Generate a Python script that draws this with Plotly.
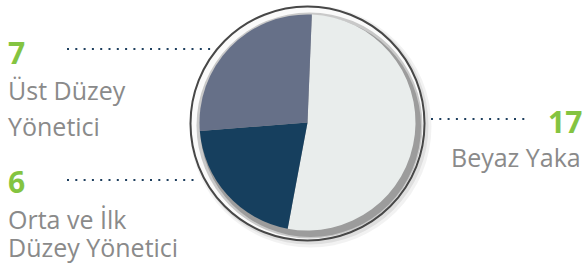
import plotly.graph_objects as go

# ---- data ----
categories = ["Beyaz Yaka", "Orta ve İlk Düzey Yönetici", "Üst Düzey Yönetici"]
counts = [17, 6, 7]                      # numbers printed beside the pie
slice_share = [52.3, 20.8, 26.9]         # slice sizes as drawn in the picture (%)
colors = ["#E9EDEC", "#163F5E", "#667088"]

W, H = 583, 275

def px(x):
    return x / W

def py(y):
    return (H - y) / H

fig = go.Figure()

cx, cy, r = 307.5, 122.5, 108
fig.add_trace(go.Pie(
    labels=categories,
    values=slice_share,
    sort=False,
    direction="clockwise",
    rotation=2.3,
    marker=dict(colors=colors, line=dict(width=0)),
    textinfo="none",
    hoverinfo="label",
    showlegend=False,
    domain=dict(x=[px(cx - r), px(cx + r)], y=[py(cy + r), py(cy - r)]),
))

def circle(x, y, rad, fill, line_color=None, line_width=0):
    return dict(
        type="circle", xref="paper", yref="paper", layer="below",
        x0=px(x - rad), x1=px(x + rad), y0=py(y + rad), y1=py(y - rad),
        fillcolor=fill,
        line=dict(color=line_color or "rgba(0,0,0,0)", width=line_width),
    )

shapes = [
    circle(cx + 3, cy + 4, 121, "rgba(0,0,0,0.05)"),
    circle(cx + 2, cy + 3, 119, "rgba(0,0,0,0.08)"),
    circle(cx, cy + 1, 117, "#FAFAFA"),
    circle(cx + 2, cy + 3, 113, "#C9C9C9"),
    circle(cx + 3, cy + 4, 110.5, "#9C9C9C"),
    circle(cx, cy + 1, 117, "rgba(0,0,0,0)", "#474747", 2),
]

dot_color = "#1E3F5E"
def dotted(x0, x1, y):
    return dict(type="line", xref="paper", yref="paper", layer="above",
                x0=px(x0), x1=px(x1), y0=py(y), y1=py(y),
                line=dict(color=dot_color, width=2.2, dash="2px,6.3px"))

shapes += [
    dotted(67, 214, 49),
    dotted(67, 198, 180),
    dotted(431, 530, 119),
]

green = "#84C441"
gray = "#8A8A8A"
font = "Open Sans"

def ann(text, x, y, anchor, size, color, bold=False):
    t = f"<b>{text}</b>" if bold else text
    return dict(text=t, x=px(x), y=py(y), xref="paper", yref="paper",
                xanchor=anchor, yanchor="middle", showarrow=False,
                font=dict(family=font, size=size, color=color))

annotations = [
    ann(str(counts[2]), 6, 52, "left", 30, green, True),
    ann("Üst Düzey", 6, 90, "left", 25, gray),
    ann("Yönetici", 6, 126, "left", 25, gray),
    ann(str(counts[1]), 6, 181, "left", 30, green, True),
    ann("Orta ve İlk", 6, 219, "left", 25, gray),
    ann("Düzey Yönetici", 6, 247, "left", 25, gray),
    ann(str(counts[0]), 584, 122, "right", 30, green, True),
    ann("Beyaz Yaka", 583, 157, "right", 25, gray),
]

fig.update_layout(
    width=W, height=H,
    margin=dict(l=0, r=0, t=0, b=0),
    paper_bgcolor="white", plot_bgcolor="white",
    shapes=shapes, annotations=annotations,
)

fig.write_html(
    "out.html",
    config={"displayModeBar": False},
    post_script="document.body.style.margin='0';document.body.style.overflow='hidden';",
)
